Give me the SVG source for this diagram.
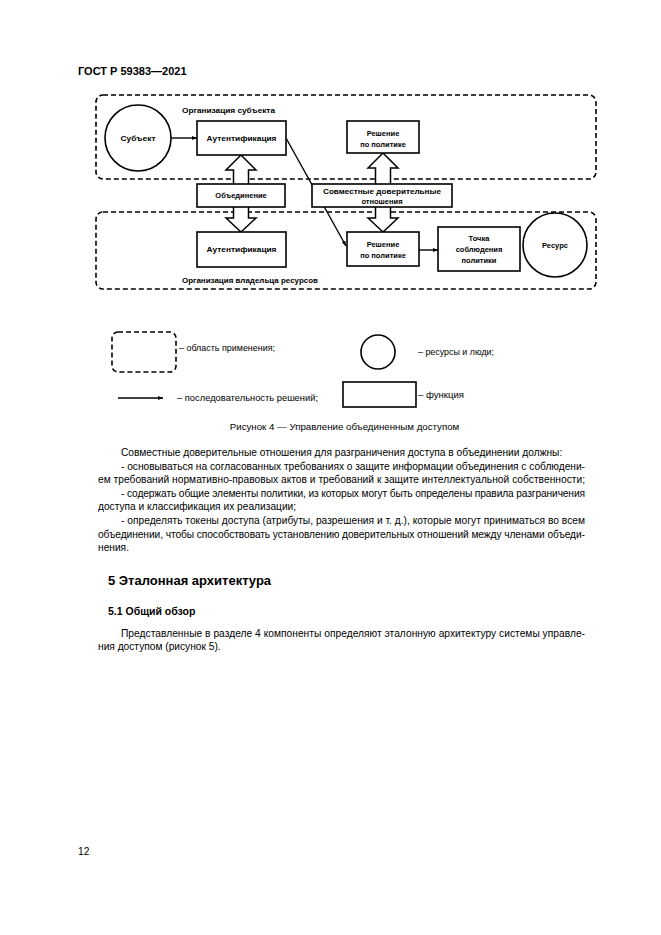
<svg xmlns="http://www.w3.org/2000/svg" width="661" height="935" viewBox="0 0 661 935">
<style>
.reg{fill:none;stroke:#000;stroke-width:1.6;stroke-dasharray:5,3}
.box{fill:#fff;stroke:#000;stroke-width:1.6}
.circ{fill:#fff;stroke:#000;stroke-width:1.6}
.lbl{font-family:"Liberation Sans",Arial,sans-serif;font-size:7.5px;font-weight:bold;fill:#000;text-anchor:middle}
.lab{font-family:"Liberation Sans",Arial,sans-serif;font-size:7.5px;font-weight:bold;fill:#000}
.leg{font-family:"Liberation Sans",Arial,sans-serif;font-size:8.8px;fill:#000}
.body{font-family:"Liberation Sans",Arial,sans-serif;font-size:10.2px;fill:#000}
.line{fill:none;stroke:#000;stroke-width:1.4}
.blk{fill:#fff;stroke:#000;stroke-width:1.5}
</style>
<defs>
<marker id="ah" viewBox="0 0 10 10" refX="10" refY="5" markerWidth="5" markerHeight="5" orient="auto" markerUnits="userSpaceOnUse">
<path d="M0,1 L10,5 L0,9 z" fill="#000"/>
</marker>
</defs>
<rect width="661" height="935" fill="#fff"/>
<text x="78" y="75" class="body" style="font-weight:bold;font-size:11px">ГОСТ Р 59383—2021</text>

<g id="regions">
<rect id="org-subject" class="reg" x="96" y="95" width="500" height="84" rx="7"/>
<rect id="org-owner" class="reg" x="96" y="212" width="500" height="77" rx="7"/>
<text x="182" y="113" class="lab" textLength="93" lengthAdjust="spacingAndGlyphs">Организация субъекта</text>
<text x="182" y="283" class="lab" textLength="136" lengthAdjust="spacingAndGlyphs">Организация владельца ресурсов</text>
</g>

<g id="connectors">
<line class="line" x1="171" y1="138" x2="197" y2="138" marker-end="url(#ah)"/>
<line class="line" x1="286" y1="138" x2="346" y2="246" marker-end="url(#ah)"/>
<line class="line" x1="419" y1="250" x2="438" y2="250" marker-end="url(#ah)"/>
<polygon class="blk" points="241,155 256,170 248.5,170 248.5,218 256,218 241,232 226,218 233.5,218 233.5,170 226,170"/>
<polygon class="blk" points="383,153 398,168 390.5,168 390.5,218 398,218 383,232 368,218 375.5,218 375.5,168 368,168"/>
</g>

<g id="subject">
<circle class="circ" cx="138" cy="138" r="33"/>
<text x="138" y="141" class="lbl" textLength="35" lengthAdjust="spacingAndGlyphs">Субъект</text>
</g>
<g id="auth-top">
<rect class="box" x="197" y="121" width="89" height="34"/>
<text x="241.5" y="141" class="lbl" textLength="70" lengthAdjust="spacingAndGlyphs">Аутентификация</text>
</g>
<g id="decision-top">
<rect class="box" x="347" y="121" width="72" height="32"/>
<text x="383" y="136" class="lbl">Решение</text>
<text x="383" y="147" class="lbl">по политике</text>
</g>
<g id="federation">
<rect class="box" x="197" y="184" width="88" height="23"/>
<text x="241" y="198" class="lbl">Объединение</text>
</g>
<g id="trust">
<rect class="box" x="312" y="184" width="140" height="23"/>
<text x="382" y="194" class="lbl" textLength="118" lengthAdjust="spacingAndGlyphs">Совместные доверительные</text>
<text x="382" y="204" class="lbl">отношения</text>
</g>
<g id="auth-bottom">
<rect class="box" x="197" y="232" width="89" height="35"/>
<text x="241.5" y="252" class="lbl" textLength="70" lengthAdjust="spacingAndGlyphs">Аутентификация</text>
</g>
<g id="decision-bottom">
<rect class="box" x="347" y="232" width="72" height="34"/>
<text x="383" y="247" class="lbl">Решение</text>
<text x="383" y="258" class="lbl">по политике</text>
</g>
<g id="enforcement">
<rect class="box" x="438" y="227" width="82" height="44"/>
<text x="479" y="241" class="lbl">Точка</text>
<text x="479" y="252" class="lbl">соблюдения</text>
<text x="479" y="263" class="lbl">политики</text>
</g>
<g id="resource">
<circle class="circ" cx="555" cy="245" r="32"/>
<text x="555" y="248" class="lbl">Ресурс</text>
</g>

<g id="legend">
<rect class="reg" x="112" y="332" width="64" height="40" rx="6"/>
<text x="179" y="351" class="leg" textLength="96" lengthAdjust="spacingAndGlyphs">– область применения;</text>
<circle class="circ" cx="378" cy="352" r="17"/>
<text x="418" y="355" class="leg" textLength="76" lengthAdjust="spacingAndGlyphs">– ресурсы и люди;</text>
<line class="line" x1="118" y1="398" x2="163" y2="398" marker-end="url(#ah)"/>
<text x="177" y="401" class="leg" textLength="141" lengthAdjust="spacingAndGlyphs">– последовательность решений;</text>
<rect class="box" x="343" y="382" width="73" height="25"/>
<text x="418" y="398" class="leg" textLength="46" lengthAdjust="spacingAndGlyphs">– функция</text>
</g>

<text x="344.5" y="430" class="body" style="font-size:9.7px" text-anchor="middle">Рисунок 4 — Управление объединенным доступом</text>

<g id="body-text">
<text x="121" y="456" class="body">Совместные доверительные отношения для разграничения доступа в объединении должны:</text>
<text x="121" y="470" class="body" textLength="464" lengthAdjust="spacing">-  основываться на согласованных требованиях о защите информации объединения с соблюдени-</text>
<text x="98" y="483" class="body" textLength="487" lengthAdjust="spacing">ем требований нормативно-правовых актов и требований к защите интеллектуальной собственности;</text>
<text x="121" y="497" class="body" textLength="464" lengthAdjust="spacing">-  содержать общие элементы политики, из которых могут быть определены правила разграничения</text>
<text x="98" y="510" class="body">доступа и классификация их реализации;</text>
<text x="121" y="524" class="body" textLength="464" lengthAdjust="spacing">-  определять токены доступа (атрибуты, разрешения и т. д.), которые могут приниматься во всем</text>
<text x="98" y="538" class="body" textLength="487" lengthAdjust="spacing">объединении, чтобы способствовать установлению доверительных отношений между членами объеди-</text>
<text x="98" y="551" class="body">нения.</text>
<text x="108" y="585" class="body" style="font-weight:bold;font-size:13px">5 Эталонная архитектура</text>
<text x="108" y="615" class="body" style="font-weight:bold;font-size:10.5px">5.1 Общий обзор</text>
<text x="121" y="637" class="body" textLength="464" lengthAdjust="spacing">Представленные в разделе 4 компоненты определяют эталонную архитектуру системы управле-</text>
<text x="98" y="650" class="body">ния доступом (рисунок 5).</text>
<text x="78" y="855" class="body">12</text>
</g>
</svg>
